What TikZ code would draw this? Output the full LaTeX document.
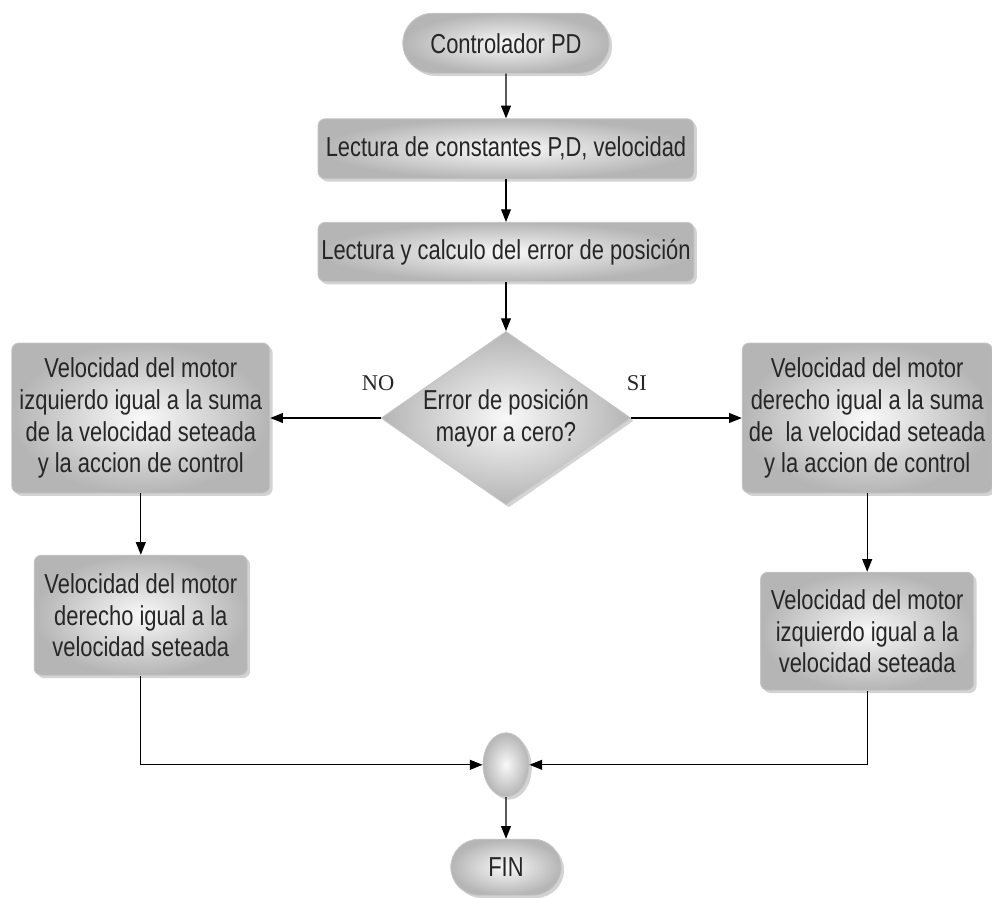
\documentclass[tikz,border=0pt]{standalone}
\usepackage{fontspec}
\setmainfont{Liberation Sans}
\newfontfamily\narrowfont[FakeStretch=0.8]{Liberation Sans}
\newfontfamily\labelfont{Liberation Serif}
\usetikzlibrary{shapes.geometric,shapes.misc,shadows,arrows.meta}

\begin{document}
\begin{tikzpicture}[
        every node/.style={font=\narrowfont\fontsize{19.5}{22.7}\selectfont, text=black!85, align=center},
        shade box/.style={inner color=gray!5, outer color=gray!58, draw=gray!45, line width=0.6pt,
            drop shadow={opacity=0.35, shadow xshift=2pt, shadow yshift=-2pt}},
        procbox/.style={shade box, rectangle, rounded corners=5pt, inner sep=1pt},
        termbox/.style={shade box, rounded rectangle, inner sep=2pt},
        decbox/.style={shade box, diamond, inner sep=0pt, shape aspect=1.45},
        joinbox/.style={shade box, ellipse, inner sep=0pt},
        arr/.style={-{Triangle[length=9pt,width=7pt]}, line width=0.8pt}
    ]

    \def\cx{12.65}   %main column
    \def\lx{3.52}    %left branch
    \def\rx{21.68}   %right branch

    \useasboundingbox (0,0) rectangle (24.8,-22.425);

    %MAIN COLUMN
    \node[termbox, minimum width=5.3cm, minimum height=1.5cm] (start) at (\cx,-1.08) {Controlador PD};
    \node[procbox, minimum width=9.4cm, minimum height=1.5cm] (leer) at (\cx,-3.72) {Lectura de constantes P,D, velocidad};
    \node[procbox, minimum width=9.4cm, minimum height=1.48cm] (error) at (\cx,-6.3) {Lectura y calculo del error de posición};
    \node[decbox, minimum width=6.2cm, minimum height=4.33cm] (cond) at (\cx,-10.45) {Error de posición\\mayor a cero?};

    %BRANCHES (NO: left, SI: right)
    \node[procbox, minimum width=6.45cm, minimum height=3.75cm] (izqA) at (\lx,-10.45)
        {Velocidad del motor\\izquierdo igual a la suma\\de la velocidad seteada\\y la accion de control};
    \node[procbox, minimum width=5.33cm, minimum height=3.0cm] (derA) at (\lx,-15.38)
        {Velocidad del motor\\derecho igual a la\\velocidad seteada};
    \node[procbox, minimum width=6.25cm, minimum height=3.75cm] (derB) at (\rx,-10.45)
        {Velocidad del motor\\derecho igual a la suma\\de\ \ la velocidad seteada\\y la accion de control};
    \node[procbox, minimum width=5.33cm, minimum height=2.95cm] (izqB) at (\rx,-15.78)
        {Velocidad del motor\\izquierdo igual a la\\velocidad seteada};

    \node[font=\labelfont\fontsize{16}{19}\selectfont] (no) at (9.45,-9.58) {NO};
    \node[font=\labelfont\fontsize{16}{19}\selectfont] (si) at (15.92,-9.58) {SI};

    %JOIN AND END
    \node[joinbox, minimum width=1.15cm, minimum height=1.6cm] (join) at (\cx,-19.12) {};
    \node[termbox, minimum width=2.9cm, minimum height=1.4cm] (fin) at (\cx,-21.68) {FIN};

    %CONNECTORS
    \draw[arr] (start) -- (leer);
    \draw[arr] (leer) -- (error);
    \draw[arr] (error) -- (cond);
    \draw[arr] (cond) -- (izqA);
    \draw[arr] (cond) -- (derB);
    \draw[arr] (izqA) -- (derA);
    \draw[arr] (derB) -- (izqB);
    \draw[arr] (derA.south) |- (join.west);
    \draw[arr] (izqB.south) |- (join.east);
    \draw[arr] (join) -- (fin);
\end{tikzpicture}
\end{document}
